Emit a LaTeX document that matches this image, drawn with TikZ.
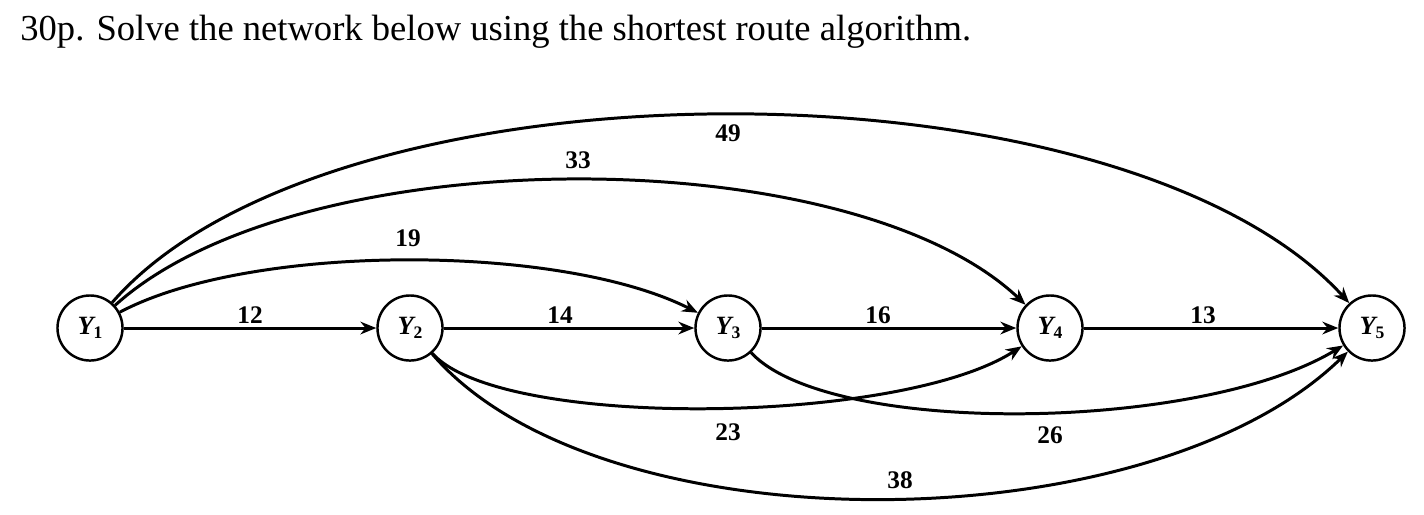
\documentclass[tikz,border=0pt]{standalone}
\usepackage{fontspec}
\setmainfont{Liberation Serif}
\usetikzlibrary{arrows.meta}
\newcommand{\vsub}[1]{\raisebox{-0.35ex}{\fontsize{5}{6}\selectfont\upshape #1}}
\begin{document}
\begin{tikzpicture}[x=0.01cm,y=-0.01cm,
  vert/.style={circle,draw,line width=0.7pt,minimum size=18.5pt,inner sep=0pt,font=\fontsize{7.5}{9}\selectfont\bfseries\itshape},
  arc/.style={line width=0.85pt,-{Stealth[length=4.5pt,width=3.6pt]}},
  lab/.style={font=\fontsize{7.2}{9}\selectfont\bfseries}]
\useasboundingbox (0,0) rectangle (1424,514);
\node[anchor=base west,font=\fontsize{10.4}{12}\selectfont] (title) at (8,40) {30p. Solve the network below using the shortest route algorithm.};
\node[vert] (Y1) at (90,328) {Y\vsub{1}};
\node[vert] (Y2) at (410,328) {Y\vsub{2}};
\node[vert] (Y3) at (728,328) {Y\vsub{3}};
\node[vert] (Y4) at (1050,328) {Y\vsub{4}};
\node[vert] (Y5) at (1372,328) {Y\vsub{5}};
\draw[arc] (Y1) -- (Y2);
\draw[arc] (Y2) -- (Y3);
\draw[arc] (Y3) -- (Y4);
\draw[arc] (Y4) -- (Y5);
\draw[arc] (Y1) .. controls (250,243) and (560,243) .. (Y3);
\draw[arc] (Y1) .. controls (300,138) and (850,138) .. (Y4);
\draw[arc] (Y1) .. controls (330,52) and (1120,52) .. (Y5);
\draw[arc] (Y2) .. controls (500,430) and (900,425) .. (Y4);
\draw[arc] (Y3) .. controls (830,437) and (1200,432) .. (Y5);
\draw[arc] (Y2) .. controls (600,550) and (1150,545) .. (Y5);
\node[lab] (l12) at (250,315) {12};
\node[lab] (l14) at (560,315) {14};
\node[lab] (l16) at (878,315) {16};
\node[lab] (l13) at (1203,315) {13};
\node[lab] (l19) at (408,238) {19};
\node[lab] (l33) at (578,160) {33};
\node[lab] (l49) at (728,133) {49};
\node[lab] (l23) at (728,432) {23};
\node[lab] (l26) at (1050,435) {26};
\node[lab] (l38) at (900,480) {38};
\end{tikzpicture}
\end{document}
